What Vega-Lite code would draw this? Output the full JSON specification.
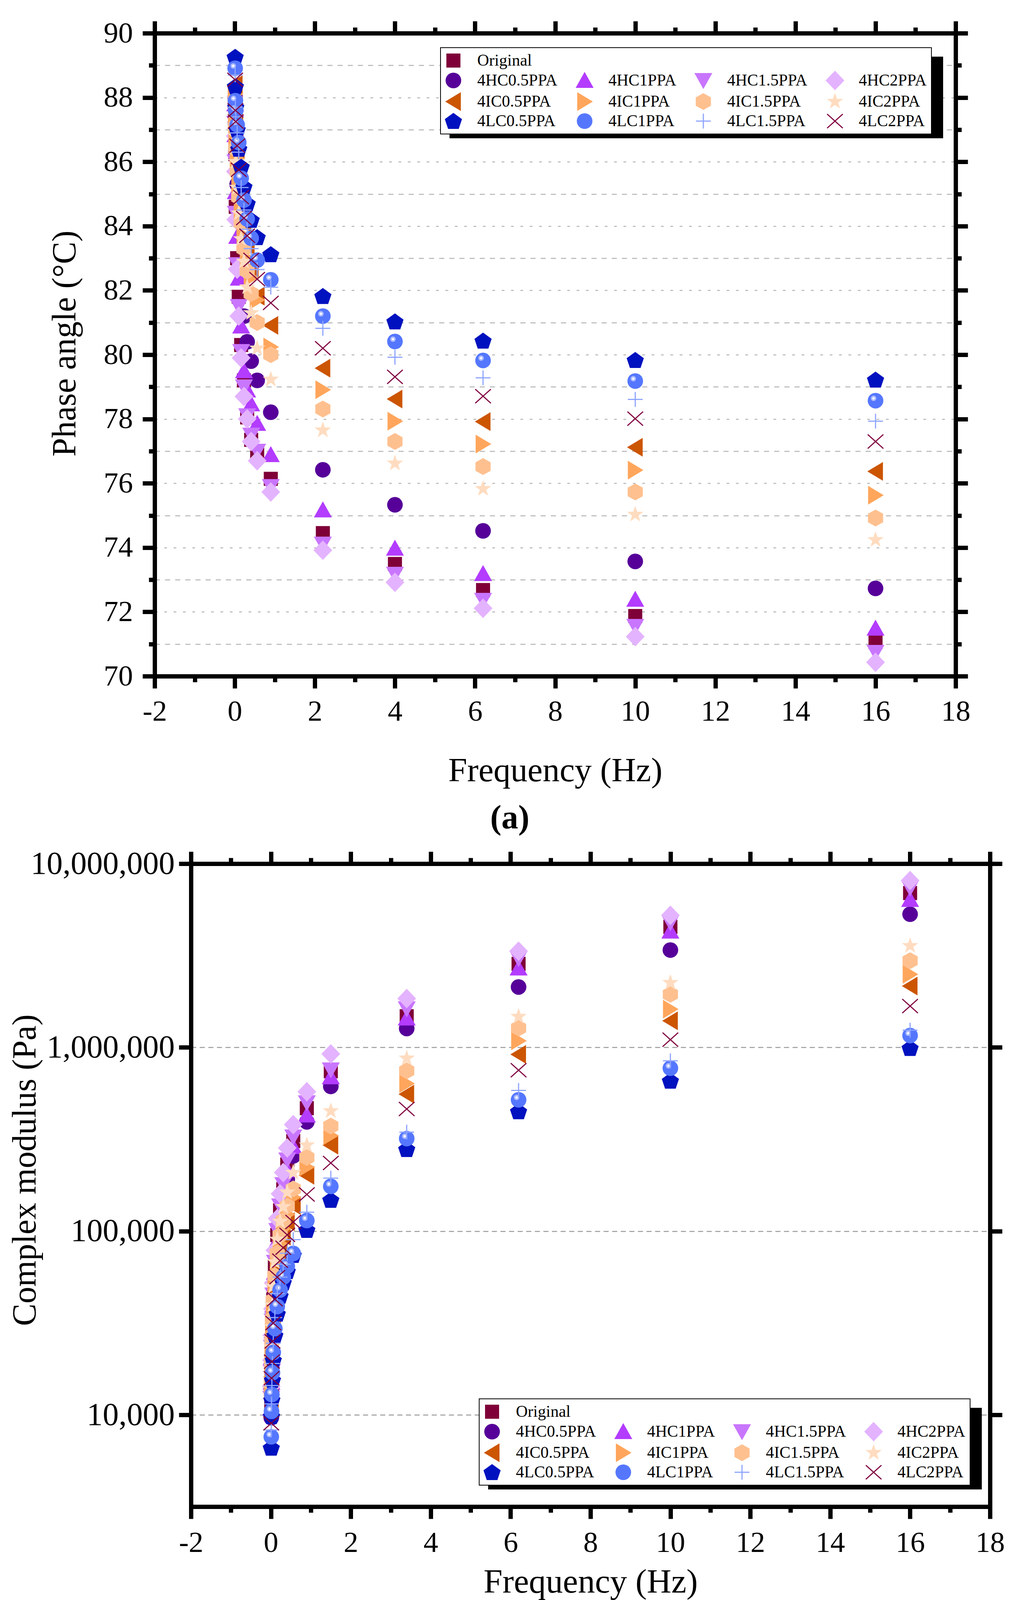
{
  "$schema": "https://vega.github.io/schema/vega-lite/v6.json",
  "background": "white",
  "autosize": {"type": "none"},
  "padding": {"left": 396, "top": 85, "right": 2244, "bottom": 4155},
  "config": {
    "font": "Liberation Serif",
    "view": {"stroke": null},
    "axis": {
      "domainColor": "black", "domainWidth": 11, "domainCap": "square",
      "tickColor": "black", "tickWidth": 11, "tickCap": "butt",
      "labelColor": "black", "titleColor": "black",
      "labelFont": "Liberation Serif", "titleFont": "Liberation Serif", "titleFontWeight": "normal",
      "labelFlush": false, "labelOverlap": false, "labelLimit": 600, "grid": false
    },
    "legend": {"strokeWidth": 2, "labelLimit": 600, "symbolStrokeWidth": 0, "direction": "horizontal", "columns": 4, "title": null, "symbolSize": 1600, "labelFont": "Liberation Serif", "labelFontSize": 42, "labelColor": "black", "labelOffset": 40, "columnPadding": 46, "rowPadding": 5, "padding": 12},
    "title": {"font": "Liberation Serif", "color": "black"}
  },
  "datasets": {
    "phase": [
      {"s":"Original","f":0.01,"v":87.6},{"s":"Original","f":0.016,"v":86.24},{"s":"Original","f":0.025,"v":84.6},{"s":"Original","f":0.06,"v":83.0},{"s":"Original","f":0.1,"v":81.8},{"s":"Original","f":0.16,"v":80.3},{"s":"Original","f":0.23,"v":79.2},{"s":"Original","f":0.31,"v":78.05},{"s":"Original","f":0.41,"v":77.35},{"s":"Original","f":0.56,"v":76.9},{"s":"Original","f":0.9,"v":76.14},{"s":"Original","f":2.2,"v":74.45},{"s":"Original","f":4,"v":73.49},{"s":"Original","f":6.2,"v":72.68},{"s":"Original","f":10,"v":71.87},{"s":"Original","f":16,"v":71.06},
      {"s":"4HC0.5PPA","f":0.01,"v":88.0},{"s":"4HC0.5PPA","f":0.016,"v":87.2},{"s":"4HC0.5PPA","f":0.025,"v":86.3},{"s":"4HC0.5PPA","f":0.06,"v":85.3},{"s":"4HC0.5PPA","f":0.1,"v":84.2},{"s":"4HC0.5PPA","f":0.16,"v":82.8},{"s":"4HC0.5PPA","f":0.23,"v":81.2},{"s":"4HC0.5PPA","f":0.31,"v":80.4},{"s":"4HC0.5PPA","f":0.41,"v":79.8},{"s":"4HC0.5PPA","f":0.56,"v":79.2},{"s":"4HC0.5PPA","f":0.9,"v":78.21},{"s":"4HC0.5PPA","f":2.2,"v":76.42},{"s":"4HC0.5PPA","f":4,"v":75.33},{"s":"4HC0.5PPA","f":6.2,"v":74.52},{"s":"4HC0.5PPA","f":10,"v":73.57},{"s":"4HC0.5PPA","f":16,"v":72.73},
      {"s":"4HC1PPA","f":0.01,"v":87.8},{"s":"4HC1PPA","f":0.016,"v":86.84},{"s":"4HC1PPA","f":0.025,"v":85.07},{"s":"4HC1PPA","f":0.06,"v":83.68},{"s":"4HC1PPA","f":0.1,"v":82.38},{"s":"4HC1PPA","f":0.16,"v":80.89},{"s":"4HC1PPA","f":0.23,"v":79.5},{"s":"4HC1PPA","f":0.31,"v":78.9},{"s":"4HC1PPA","f":0.41,"v":78.47},{"s":"4HC1PPA","f":0.56,"v":77.86},{"s":"4HC1PPA","f":0.9,"v":76.89},{"s":"4HC1PPA","f":2.2,"v":75.17},{"s":"4HC1PPA","f":4,"v":73.98},{"s":"4HC1PPA","f":6.2,"v":73.19},{"s":"4HC1PPA","f":10,"v":72.39},{"s":"4HC1PPA","f":16,"v":71.49},
      {"s":"4HC1.5PPA","f":0.01,"v":87.2},{"s":"4HC1.5PPA","f":0.016,"v":86.0},{"s":"4HC1.5PPA","f":0.025,"v":84.4},{"s":"4HC1.5PPA","f":0.06,"v":82.8},{"s":"4HC1.5PPA","f":0.1,"v":81.5},{"s":"4HC1.5PPA","f":0.16,"v":80.1},{"s":"4HC1.5PPA","f":0.23,"v":79.0},{"s":"4HC1.5PPA","f":0.31,"v":78.1},{"s":"4HC1.5PPA","f":0.41,"v":77.5},{"s":"4HC1.5PPA","f":0.56,"v":77.0},{"s":"4HC1.5PPA","f":0.9,"v":75.9},{"s":"4HC1.5PPA","f":2.2,"v":74.11},{"s":"4HC1.5PPA","f":4,"v":73.17},{"s":"4HC1.5PPA","f":6.2,"v":72.36},{"s":"4HC1.5PPA","f":10,"v":71.55},{"s":"4HC1.5PPA","f":16,"v":70.74},
      {"s":"4HC2PPA","f":0.01,"v":86.8},{"s":"4HC2PPA","f":0.016,"v":85.7},{"s":"4HC2PPA","f":0.025,"v":84.2},{"s":"4HC2PPA","f":0.06,"v":82.66},{"s":"4HC2PPA","f":0.1,"v":81.2},{"s":"4HC2PPA","f":0.16,"v":79.9},{"s":"4HC2PPA","f":0.23,"v":78.7},{"s":"4HC2PPA","f":0.31,"v":78.0},{"s":"4HC2PPA","f":0.41,"v":77.3},{"s":"4HC2PPA","f":0.56,"v":76.7},{"s":"4HC2PPA","f":0.9,"v":75.73},{"s":"4HC2PPA","f":2.2,"v":73.92},{"s":"4HC2PPA","f":4,"v":72.92},{"s":"4HC2PPA","f":6.2,"v":72.11},{"s":"4HC2PPA","f":10,"v":71.23},{"s":"4HC2PPA","f":16,"v":70.43},
      {"s":"4IC0.5PPA","f":0.01,"v":88.4},{"s":"4IC0.5PPA","f":0.016,"v":87.7},{"s":"4IC0.5PPA","f":0.025,"v":87.1},{"s":"4IC0.5PPA","f":0.06,"v":86.4},{"s":"4IC0.5PPA","f":0.1,"v":85.7},{"s":"4IC0.5PPA","f":0.16,"v":84.9},{"s":"4IC0.5PPA","f":0.23,"v":84.1},{"s":"4IC0.5PPA","f":0.31,"v":83.4},{"s":"4IC0.5PPA","f":0.41,"v":82.7},{"s":"4IC0.5PPA","f":0.56,"v":81.82},{"s":"4IC0.5PPA","f":0.9,"v":80.91},{"s":"4IC0.5PPA","f":2.2,"v":79.58},{"s":"4IC0.5PPA","f":4,"v":78.62},{"s":"4IC0.5PPA","f":6.2,"v":77.92},{"s":"4IC0.5PPA","f":10,"v":77.12},{"s":"4IC0.5PPA","f":16,"v":76.37},
      {"s":"4IC1PPA","f":0.01,"v":88.1},{"s":"4IC1PPA","f":0.016,"v":87.4},{"s":"4IC1PPA","f":0.025,"v":86.8},{"s":"4IC1PPA","f":0.06,"v":86.1},{"s":"4IC1PPA","f":0.1,"v":85.3},{"s":"4IC1PPA","f":0.16,"v":84.5},{"s":"4IC1PPA","f":0.23,"v":83.7},{"s":"4IC1PPA","f":0.31,"v":83.0},{"s":"4IC1PPA","f":0.41,"v":82.4},{"s":"4IC1PPA","f":0.56,"v":81.7},{"s":"4IC1PPA","f":0.9,"v":80.24},{"s":"4IC1PPA","f":2.2,"v":78.91},{"s":"4IC1PPA","f":4,"v":77.93},{"s":"4IC1PPA","f":6.2,"v":77.22},{"s":"4IC1PPA","f":10,"v":76.41},{"s":"4IC1PPA","f":16,"v":75.63},
      {"s":"4IC1.5PPA","f":0.01,"v":87.9},{"s":"4IC1.5PPA","f":0.016,"v":87.1},{"s":"4IC1.5PPA","f":0.025,"v":86.4},{"s":"4IC1.5PPA","f":0.06,"v":85.7},{"s":"4IC1.5PPA","f":0.1,"v":84.9},{"s":"4IC1.5PPA","f":0.16,"v":84.1},{"s":"4IC1.5PPA","f":0.23,"v":83.3},{"s":"4IC1.5PPA","f":0.31,"v":82.6},{"s":"4IC1.5PPA","f":0.41,"v":81.9},{"s":"4IC1.5PPA","f":0.56,"v":81.0},{"s":"4IC1.5PPA","f":0.9,"v":80.0},{"s":"4IC1.5PPA","f":2.2,"v":78.31},{"s":"4IC1.5PPA","f":4,"v":77.3},{"s":"4IC1.5PPA","f":6.2,"v":76.52},{"s":"4IC1.5PPA","f":10,"v":75.73},{"s":"4IC1.5PPA","f":16,"v":74.92},
      {"s":"4IC2PPA","f":0.01,"v":87.6},{"s":"4IC2PPA","f":0.016,"v":86.8},{"s":"4IC2PPA","f":0.025,"v":86.0},{"s":"4IC2PPA","f":0.06,"v":85.2},{"s":"4IC2PPA","f":0.1,"v":84.4},{"s":"4IC2PPA","f":0.16,"v":83.6},{"s":"4IC2PPA","f":0.23,"v":82.9},{"s":"4IC2PPA","f":0.31,"v":82.1},{"s":"4IC2PPA","f":0.41,"v":81.3},{"s":"4IC2PPA","f":0.56,"v":80.2},{"s":"4IC2PPA","f":0.9,"v":79.23},{"s":"4IC2PPA","f":2.2,"v":77.65},{"s":"4IC2PPA","f":4,"v":76.62},{"s":"4IC2PPA","f":6.2,"v":75.83},{"s":"4IC2PPA","f":10,"v":75.03},{"s":"4IC2PPA","f":16,"v":74.24},
      {"s":"4LC0.5PPA","f":0.01,"v":89.26},{"s":"4LC0.5PPA","f":0.016,"v":88.34},{"s":"4LC0.5PPA","f":0.025,"v":87.7},{"s":"4LC0.5PPA","f":0.06,"v":87.0},{"s":"4LC0.5PPA","f":0.1,"v":86.4},{"s":"4LC0.5PPA","f":0.16,"v":85.84},{"s":"4LC0.5PPA","f":0.23,"v":85.22},{"s":"4LC0.5PPA","f":0.31,"v":84.7},{"s":"4LC0.5PPA","f":0.41,"v":84.19},{"s":"4LC0.5PPA","f":0.56,"v":83.65},{"s":"4LC0.5PPA","f":0.9,"v":83.12},{"s":"4LC0.5PPA","f":2.2,"v":81.82},{"s":"4LC0.5PPA","f":4,"v":81.03},{"s":"4LC0.5PPA","f":6.2,"v":80.43},{"s":"4LC0.5PPA","f":10,"v":79.83},{"s":"4LC0.5PPA","f":16,"v":79.22},
      {"s":"4LC1PPA","f":0.01,"v":88.91},{"s":"4LC1PPA","f":0.016,"v":87.9},{"s":"4LC1PPA","f":0.025,"v":87.6},{"s":"4LC1PPA","f":0.06,"v":87.15},{"s":"4LC1PPA","f":0.1,"v":86.6},{"s":"4LC1PPA","f":0.16,"v":85.49},{"s":"4LC1PPA","f":0.23,"v":84.81},{"s":"4LC1PPA","f":0.31,"v":84.22},{"s":"4LC1PPA","f":0.41,"v":83.62},{"s":"4LC1PPA","f":0.56,"v":82.94},{"s":"4LC1PPA","f":0.9,"v":82.33},{"s":"4LC1PPA","f":2.2,"v":81.2},{"s":"4LC1PPA","f":4,"v":80.41},{"s":"4LC1PPA","f":6.2,"v":79.82},{"s":"4LC1PPA","f":10,"v":79.18},{"s":"4LC1PPA","f":16,"v":78.57},
      {"s":"4LC1.5PPA","f":0.01,"v":88.7},{"s":"4LC1.5PPA","f":0.016,"v":87.7},{"s":"4LC1.5PPA","f":0.025,"v":87.4},{"s":"4LC1.5PPA","f":0.06,"v":86.9},{"s":"4LC1.5PPA","f":0.1,"v":86.3},{"s":"4LC1.5PPA","f":0.16,"v":85.2},{"s":"4LC1.5PPA","f":0.23,"v":84.5},{"s":"4LC1.5PPA","f":0.31,"v":83.9},{"s":"4LC1.5PPA","f":0.41,"v":83.3},{"s":"4LC1.5PPA","f":0.56,"v":82.65},{"s":"4LC1.5PPA","f":0.9,"v":82.1},{"s":"4LC1.5PPA","f":2.2,"v":80.82},{"s":"4LC1.5PPA","f":4,"v":79.92},{"s":"4LC1.5PPA","f":6.2,"v":79.28},{"s":"4LC1.5PPA","f":10,"v":78.61},{"s":"4LC1.5PPA","f":16,"v":77.93},
      {"s":"4LC2PPA","f":0.01,"v":88.55},{"s":"4LC2PPA","f":0.016,"v":87.6},{"s":"4LC2PPA","f":0.025,"v":87.25},{"s":"4LC2PPA","f":0.06,"v":86.5},{"s":"4LC2PPA","f":0.1,"v":85.75},{"s":"4LC2PPA","f":0.16,"v":84.9},{"s":"4LC2PPA","f":0.23,"v":84.25},{"s":"4LC2PPA","f":0.31,"v":83.7},{"s":"4LC2PPA","f":0.41,"v":82.95},{"s":"4LC2PPA","f":0.56,"v":82.35},{"s":"4LC2PPA","f":0.9,"v":81.61},{"s":"4LC2PPA","f":2.2,"v":80.2},{"s":"4LC2PPA","f":4,"v":79.31},{"s":"4LC2PPA","f":6.2,"v":78.71},{"s":"4LC2PPA","f":10,"v":78.01},{"s":"4LC2PPA","f":16,"v":77.3}
    ],
    "modulus": [
      {"s":"Original","f":0.01,"v":11620},{"s":"Original","f":0.016,"v":16150},{"s":"Original","f":0.025,"v":22080},{"s":"Original","f":0.04,"v":30700},{"s":"Original","f":0.06,"v":42470},{"s":"Original","f":0.1,"v":63980},{"s":"Original","f":0.16,"v":95280},{"s":"Original","f":0.23,"v":129800},{"s":"Original","f":0.31,"v":169400},{"s":"Original","f":0.41,"v":230700},{"s":"Original","f":0.56,"v":309100},{"s":"Original","f":0.9,"v":466700},{"s":"Original","f":1.5,"v":741300},{"s":"Original","f":3.4,"v":1479000},{"s":"Original","f":6.2,"v":2851000},{"s":"Original","f":10,"v":4529000},{"s":"Original","f":16,"v":6918000},
      {"s":"4HC0.5PPA","f":0.01,"v":9660},{"s":"4HC0.5PPA","f":0.016,"v":13430},{"s":"4HC0.5PPA","f":0.025,"v":18360},{"s":"4HC0.5PPA","f":0.04,"v":25530},{"s":"4HC0.5PPA","f":0.06,"v":35310},{"s":"4HC0.5PPA","f":0.1,"v":53200},{"s":"4HC0.5PPA","f":0.16,"v":79230},{"s":"4HC0.5PPA","f":0.23,"v":107900},{"s":"4HC0.5PPA","f":0.31,"v":140900},{"s":"4HC0.5PPA","f":0.41,"v":191800},{"s":"4HC0.5PPA","f":0.56,"v":257000},{"s":"4HC0.5PPA","f":0.9,"v":393600},{"s":"4HC0.5PPA","f":1.5,"v":613800},{"s":"4HC0.5PPA","f":3.4,"v":1268000},{"s":"4HC0.5PPA","f":6.2,"v":2133000},{"s":"4HC0.5PPA","f":10,"v":3388000},{"s":"4HC0.5PPA","f":16,"v":5309000},
      {"s":"4HC1PPA","f":0.01,"v":10850},{"s":"4HC1PPA","f":0.016,"v":15070},{"s":"4HC1PPA","f":0.025,"v":20610},{"s":"4HC1PPA","f":0.04,"v":28660},{"s":"4HC1PPA","f":0.06,"v":39650},{"s":"4HC1PPA","f":0.1,"v":59730},{"s":"4HC1PPA","f":0.16,"v":88950},{"s":"4HC1PPA","f":0.23,"v":121100},{"s":"4HC1PPA","f":0.31,"v":158200},{"s":"4HC1PPA","f":0.41,"v":215400},{"s":"4HC1PPA","f":0.56,"v":288600},{"s":"4HC1PPA","f":0.9,"v":428500},{"s":"4HC1PPA","f":1.5,"v":691800},{"s":"4HC1PPA","f":3.4,"v":1445000},{"s":"4HC1PPA","f":6.2,"v":2704000},{"s":"4HC1PPA","f":10,"v":4295000},{"s":"4HC1PPA","f":16,"v":6383000},
      {"s":"4HC1.5PPA","f":0.01,"v":12300},{"s":"4HC1.5PPA","f":0.016,"v":17100},{"s":"4HC1.5PPA","f":0.025,"v":23380},{"s":"4HC1.5PPA","f":0.04,"v":32510},{"s":"4HC1.5PPA","f":0.06,"v":44980},{"s":"4HC1.5PPA","f":0.1,"v":67760},{"s":"4HC1.5PPA","f":0.16,"v":100900},{"s":"4HC1.5PPA","f":0.23,"v":137400},{"s":"4HC1.5PPA","f":0.31,"v":179400},{"s":"4HC1.5PPA","f":0.41,"v":244300},{"s":"4HC1.5PPA","f":0.56,"v":325800},{"s":"4HC1.5PPA","f":0.9,"v":500000},{"s":"4HC1.5PPA","f":1.5,"v":755100},{"s":"4HC1.5PPA","f":3.4,"v":1622000},{"s":"4HC1.5PPA","f":6.2,"v":3048000},{"s":"4HC1.5PPA","f":10,"v":4775000},{"s":"4HC1.5PPA","f":16,"v":7379000},
      {"s":"4HC2PPA","f":0.01,"v":14290},{"s":"4HC2PPA","f":0.016,"v":19860},{"s":"4HC2PPA","f":0.025,"v":27160},{"s":"4HC2PPA","f":0.04,"v":37760},{"s":"4HC2PPA","f":0.06,"v":52240},{"s":"4HC2PPA","f":0.1,"v":78700},{"s":"4HC2PPA","f":0.16,"v":117200},{"s":"4HC2PPA","f":0.23,"v":159600},{"s":"4HC2PPA","f":0.31,"v":208400},{"s":"4HC2PPA","f":0.41,"v":283800},{"s":"4HC2PPA","f":0.56,"v":380200},{"s":"4HC2PPA","f":0.9,"v":574100},{"s":"4HC2PPA","f":1.5,"v":922600},{"s":"4HC2PPA","f":3.4,"v":1845000},{"s":"4HC2PPA","f":6.2,"v":3342000},{"s":"4HC2PPA","f":10,"v":5236000},{"s":"4HC2PPA","f":16,"v":8091000},
      {"s":"4IC0.5PPA","f":0.01,"v":12270},{"s":"4IC0.5PPA","f":0.016,"v":16110},{"s":"4IC0.5PPA","f":0.025,"v":20890},{"s":"4IC0.5PPA","f":0.04,"v":27420},{"s":"4IC0.5PPA","f":0.06,"v":34670},{"s":"4IC0.5PPA","f":0.1,"v":47100},{"s":"4IC0.5PPA","f":0.16,"v":62370},{"s":"4IC0.5PPA","f":0.23,"v":78160},{"s":"4IC0.5PPA","f":0.31,"v":93970},{"s":"4IC0.5PPA","f":0.41,"v":112700},{"s":"4IC0.5PPA","f":0.56,"v":138000},{"s":"4IC0.5PPA","f":0.9,"v":201400},{"s":"4IC0.5PPA","f":1.5,"v":293800},{"s":"4IC0.5PPA","f":3.4,"v":557200},{"s":"4IC0.5PPA","f":6.2,"v":916200},{"s":"4IC0.5PPA","f":10,"v":1396000},{"s":"4IC0.5PPA","f":16,"v":2158000},
      {"s":"4IC1PPA","f":0.01,"v":13450},{"s":"4IC1PPA","f":0.016,"v":17660},{"s":"4IC1PPA","f":0.025,"v":22900},{"s":"4IC1PPA","f":0.04,"v":30050},{"s":"4IC1PPA","f":0.06,"v":38000},{"s":"4IC1PPA","f":0.1,"v":51620},{"s":"4IC1PPA","f":0.16,"v":68360},{"s":"4IC1PPA","f":0.23,"v":85660},{"s":"4IC1PPA","f":0.31,"v":103000},{"s":"4IC1PPA","f":0.41,"v":123500},{"s":"4IC1PPA","f":0.56,"v":153100},{"s":"4IC1PPA","f":0.9,"v":223400},{"s":"4IC1PPA","f":1.5,"v":331100},{"s":"4IC1PPA","f":3.4,"v":635300},{"s":"4IC1PPA","f":6.2,"v":1086000},{"s":"4IC1PPA","f":10,"v":1614000},{"s":"4IC1PPA","f":16,"v":2500000},
      {"s":"4IC1.5PPA","f":0.01,"v":14920},{"s":"4IC1.5PPA","f":0.016,"v":19590},{"s":"4IC1.5PPA","f":0.025,"v":25400},{"s":"4IC1.5PPA","f":0.04,"v":33340},{"s":"4IC1.5PPA","f":0.06,"v":42160},{"s":"4IC1.5PPA","f":0.1,"v":57270},{"s":"4IC1.5PPA","f":0.16,"v":75840},{"s":"4IC1.5PPA","f":0.23,"v":95040},{"s":"4IC1.5PPA","f":0.31,"v":114300},{"s":"4IC1.5PPA","f":0.41,"v":137000},{"s":"4IC1.5PPA","f":0.56,"v":169800},{"s":"4IC1.5PPA","f":0.9,"v":251800},{"s":"4IC1.5PPA","f":1.5,"v":373300},{"s":"4IC1.5PPA","f":3.4,"v":746400},{"s":"4IC1.5PPA","f":6.2,"v":1274000},{"s":"4IC1.5PPA","f":10,"v":1945000},{"s":"4IC1.5PPA","f":16,"v":2965000},
      {"s":"4IC2PPA","f":0.01,"v":17730},{"s":"4IC2PPA","f":0.016,"v":23280},{"s":"4IC2PPA","f":0.025,"v":30190},{"s":"4IC2PPA","f":0.04,"v":39620},{"s":"4IC2PPA","f":0.06,"v":50100},{"s":"4IC2PPA","f":0.1,"v":68060},{"s":"4IC2PPA","f":0.16,"v":90120},{"s":"4IC2PPA","f":0.23,"v":112900},{"s":"4IC2PPA","f":0.31,"v":135800},{"s":"4IC2PPA","f":0.41,"v":162900},{"s":"4IC2PPA","f":0.56,"v":208400},{"s":"4IC2PPA","f":0.9,"v":293800},{"s":"4IC2PPA","f":1.5,"v":450800},{"s":"4IC2PPA","f":3.4,"v":873000},{"s":"4IC2PPA","f":6.2,"v":1472000},{"s":"4IC2PPA","f":10,"v":2249000},{"s":"4IC2PPA","f":16,"v":3573000},
      {"s":"4LC0.5PPA","f":0.01,"v":6622},{"s":"4LC0.5PPA","f":0.016,"v":9840},{"s":"4LC0.5PPA","f":0.025,"v":12080},{"s":"4LC0.5PPA","f":0.04,"v":15490},{"s":"4LC0.5PPA","f":0.06,"v":19860},{"s":"4LC0.5PPA","f":0.1,"v":27040},{"s":"4LC0.5PPA","f":0.16,"v":35480},{"s":"4LC0.5PPA","f":0.23,"v":44460},{"s":"4LC0.5PPA","f":0.31,"v":52480},{"s":"4LC0.5PPA","f":0.41,"v":60530},{"s":"4LC0.5PPA","f":0.56,"v":74130},{"s":"4LC0.5PPA","f":0.9,"v":101400},{"s":"4LC0.5PPA","f":1.5,"v":147900},{"s":"4LC0.5PPA","f":3.4,"v":279300},{"s":"4LC0.5PPA","f":6.2,"v":448700},{"s":"4LC0.5PPA","f":10,"v":657700},{"s":"4LC0.5PPA","f":16,"v":990800},
      {"s":"4LC1PPA","f":0.01,"v":7603},{"s":"4LC1PPA","f":0.016,"v":10470},{"s":"4LC1PPA","f":0.025,"v":12910},{"s":"4LC1PPA","f":0.04,"v":16980},{"s":"4LC1PPA","f":0.06,"v":21880},{"s":"4LC1PPA","f":0.1,"v":29510},{"s":"4LC1PPA","f":0.16,"v":38900},{"s":"4LC1PPA","f":0.23,"v":47860},{"s":"4LC1PPA","f":0.31,"v":56230},{"s":"4LC1PPA","f":0.41,"v":64570},{"s":"4LC1PPA","f":0.56,"v":75680},{"s":"4LC1PPA","f":0.9,"v":114300},{"s":"4LC1PPA","f":1.5,"v":175400},{"s":"4LC1PPA","f":3.4,"v":319200},{"s":"4LC1PPA","f":6.2,"v":518800},{"s":"4LC1PPA","f":10,"v":770900},{"s":"4LC1PPA","f":16,"v":1161000},
      {"s":"4LC1.5PPA","f":0.01,"v":8279},{"s":"4LC1.5PPA","f":0.016,"v":11480},{"s":"4LC1.5PPA","f":0.025,"v":14450},{"s":"4LC1.5PPA","f":0.04,"v":19050},{"s":"4LC1.5PPA","f":0.06,"v":24550},{"s":"4LC1.5PPA","f":0.1,"v":33880},{"s":"4LC1.5PPA","f":0.16,"v":45710},{"s":"4LC1.5PPA","f":0.23,"v":56230},{"s":"4LC1.5PPA","f":0.31,"v":66070},{"s":"4LC1.5PPA","f":0.41,"v":75860},{"s":"4LC1.5PPA","f":0.56,"v":89950},{"s":"4LC1.5PPA","f":0.9,"v":126800},{"s":"4LC1.5PPA","f":1.5,"v":194500},{"s":"4LC1.5PPA","f":3.4,"v":345900},{"s":"4LC1.5PPA","f":6.2,"v":583400},{"s":"4LC1.5PPA","f":10,"v":845300},{"s":"4LC1.5PPA","f":16,"v":1242000},
      {"s":"4LC2PPA","f":0.01,"v":9016},{"s":"4LC2PPA","f":0.016,"v":15850},{"s":"4LC2PPA","f":0.025,"v":19500},{"s":"4LC2PPA","f":0.04,"v":25120},{"s":"4LC2PPA","f":0.06,"v":31620},{"s":"4LC2PPA","f":0.1,"v":42660},{"s":"4LC2PPA","f":0.16,"v":56230},{"s":"4LC2PPA","f":0.23,"v":69180},{"s":"4LC2PPA","f":0.31,"v":81280},{"s":"4LC2PPA","f":0.41,"v":95500},{"s":"4LC2PPA","f":0.56,"v":112200},{"s":"4LC2PPA","f":0.9,"v":158500},{"s":"4LC2PPA","f":1.5,"v":235000},{"s":"4LC2PPA","f":3.4,"v":462400},{"s":"4LC2PPA","f":6.2,"v":751600},{"s":"4LC2PPA","f":10,"v":1102000},{"s":"4LC2PPA","f":16,"v":1679000}
    ]
  },
  "bounds": "flush",
  "spacing": 480,
  "resolve": {"scale": {"x": "independent", "y": "independent", "color": "independent", "shape": "independent", "opacity": "independent"}},
  "vconcat": [
    {
      "width": 2051,
      "height": 1646,
      "data": {"name": "phase"},
      "title": {"text": "(a)", "orient": "bottom", "frame": "group", "anchor": "middle", "dx": -116, "offset": 79, "baseline": "middle", "fontSize": 86, "fontWeight": "bold"},
      "resolve": {"axis": {"x": "independent", "y": "independent"}},
      "layer": [
        {
          "transform": [{"filter": {"not": {"field": "s", "oneOf": ["4LC1.5PPA", "4LC2PPA"]}}}],
          "mark": {"type": "point", "filled": true, "size": 1600, "opacity": 1, "strokeWidth": 0, "color": "black"},
          "encoding": {
            "x": {"field": "f", "type": "quantitative", "scale": {"domain": [-2, 18], "nice": false, "zero": false},
              "axis": {"orient": "bottom", "values": [-2, 0, 2, 4, 6, 8, 10, 12, 14, 16, 18], "tickSize": 31, "labelFontSize": 75, "labelPadding": 82, "labelBaseline": "alphabetic", "labelExpr": "'' + datum.value", "title": "Frequency (Hz)", "titleFontSize": 87, "titleBaseline": "alphabetic", "titleY": 268, "grid": false}},
            "y": {"field": "v", "type": "quantitative", "scale": {"domain": [70, 90], "nice": false, "zero": false},
              "axis": {"orient": "left", "values": [70, 72, 74, 76, 78, 80, 82, 84, 86, 88, 90], "tickSize": 31, "labelFontSize": 75, "labelPadding": 25, "title": "Phase angle (°C)", "titleFontSize": 86, "titleBaseline": "alphabetic", "titleAngle": -90, "titleAlign": "center", "titleX": -204, "titleY": 794, "grid": true, "gridDash": [7, 17], "gridColor": "#c0c0c0", "gridWidth": 3}},
            "color": {"field": "s", "type": "nominal",
              "scale": {"domain": ["Original", " ", "  ", "   ", "4HC0.5PPA", "4HC1PPA", "4HC1.5PPA", "4HC2PPA", "4IC0.5PPA", "4IC1PPA", "4IC1.5PPA", "4IC2PPA", "4LC0.5PPA", "4LC1PPA", "4LC1.5PPA", "4LC2PPA"],
                "range": ["#7f0038", "transparent", "transparent", "transparent", "#560099", "#b33cff", "#c976ff", "#e4b3ff", "#cc5500", "#ffa65c", "#ffc08f", "#ffdcc0", "#0012bf", "#5577ff", "#8fa5ff", "#800040"]},
              "legend": {"orient": "none", "legendX": 732, "legendY": 37, "fillColor": "white", "strokeColor": "black", "zindex": 3}},
            "shape": {"field": "s", "type": "nominal",
              "scale": {"domain": ["Original", " ", "  ", "   ", "4HC0.5PPA", "4HC1PPA", "4HC1.5PPA", "4HC2PPA", "4IC0.5PPA", "4IC1PPA", "4IC1.5PPA", "4IC2PPA", "4LC0.5PPA", "4LC1PPA", "4LC1.5PPA", "4LC2PPA"],
                "range": ["M-0.9,-0.9H0.9V0.9H-0.9Z", "circle", "circle", "circle", "circle", "M0,-1.1L1.15,0.95L-1.15,0.95Z", "M0,1.1L1.15,-0.95L-1.15,-0.95Z", "M0,-1.25L1.2,0L0,1.25L-1.2,0Z", "M-1.05,0L0.95,-1.2L0.95,1.2Z", "M1.05,0L-0.95,-1.2L-0.95,1.2Z", "M0,-1.08L0.97,-0.54L0.97,0.54L0,1.08L-0.97,0.54L-0.97,-0.54Z", "M0,-1.1L0.259,-0.356L1.046,-0.34L0.419,0.136L0.647,0.89L0,0.44L-0.647,0.89L-0.419,0.136L-1.046,-0.34L-0.259,-0.356Z", "M0,-1.05L1.1,-0.25L0.68,1.0L-0.68,1.0L-1.1,-0.25Z", "circle", "M-0.075,-0.95H0.075V-0.075H0.95V0.075H0.075V0.95H-0.075V0.075H-0.95V-0.075H-0.075Z", "M-1.05,-0.85L-0.95,-0.95L1.05,0.85L0.95,0.95Z M1.05,-0.85L-0.95,0.95L-1.05,0.85L0.95,-0.95Z"]},
              "legend": {"orient": "none", "legendX": 732, "legendY": 37, "fillColor": "white", "strokeColor": "black", "zindex": 3}},
            "opacity": {"field": "s", "type": "ordinal",
              "scale": {"domain": ["Original", "\u2002", "\u2002\u2002", "\u2002\u2002\u2002", "4HC0.5PPA", "4HC1PPA", "4HC1.5PPA", "4HC2PPA", "4IC0.5PPA", "4IC1PPA", "4IC1.5PPA", "4IC2PPA", "4LC0.5PPA", "4LC1PPA", "4LC1.5PPA", "4LC2PPA"], "range": [1, 1]},
              "legend": {"orient": "none", "legendX": 756, "legendY": 61, "symbolFillColor": "black", "labelExpr": "''", "labelOffset": 233, "fillColor": "black", "strokeColor": "black", "zindex": 2}}
          }
        },
        {
          "transform": [{"filter": {"field": "s", "equal": "4LC1PPA"}}],
          "mark": {"type": "point", "filled": true, "shape": "circle", "size": 196, "color": "#aebcff", "opacity": 1, "strokeWidth": 0, "xOffset": -5, "yOffset": -6},
          "encoding": {
            "x": {"field": "f", "type": "quantitative", "axis": {"orient": "bottom", "values": [-1, 1, 3, 5, 7, 9, 11, 13, 15, 17], "tickSize": 15, "labels": false, "domain": false, "title": null, "grid": false}},
            "y": {"field": "v", "type": "quantitative", "axis": {"orient": "left", "values": [71, 73, 75, 77, 79, 81, 83, 85, 87, 89], "tickSize": 15, "labels": false, "domain": false, "title": null, "grid": true, "gridDash": [13, 13], "gridColor": "#c0c0c0", "gridWidth": 3}}
          }
        },
        {
          "transform": [{"filter": {"field": "s", "equal": "4LC1PPA"}}],
          "mark": {"type": "point", "filled": true, "shape": "circle", "size": 36, "color": "white", "opacity": 1, "strokeWidth": 0, "xOffset": -5, "yOffset": -6},
          "encoding": {
            "x": {"field": "f", "type": "quantitative", "axis": {"orient": "top", "values": [-2, 0, 2, 4, 6, 8, 10, 12, 14, 16, 18], "tickSize": 31, "labels": false, "title": null, "grid": false}},
            "y": {"field": "v", "type": "quantitative", "axis": {"orient": "right", "values": [70, 72, 74, 76, 78, 80, 82, 84, 86, 88, 90], "tickSize": 31, "labels": false, "title": null, "grid": false}}
          }
        },
        {
          "transform": [{"filter": {"field": "s", "oneOf": ["4LC1.5PPA", "4LC2PPA"]}}],
          "mark": {"type": "point", "filled": true, "size": 1600, "opacity": 1, "strokeWidth": 0, "color": "black"},
          "encoding": {
            "x": {"field": "f", "type": "quantitative", "axis": {"orient": "top", "values": [-1, 1, 3, 5, 7, 9, 11, 13, 15, 17], "tickSize": 15, "labels": false, "domain": false, "title": null, "grid": false}},
            "y": {"field": "v", "type": "quantitative", "axis": {"orient": "right", "values": [71, 73, 75, 77, 79, 81, 83, 85, 87, 89], "tickSize": 15, "labels": false, "domain": false, "title": null, "grid": false}},
            "color": {"field": "s", "type": "nominal"},
            "shape": {"field": "s", "type": "nominal"},
            "opacity": {"field": "s", "type": "ordinal"}
          }
        }
      ]
    },
    {
      "bounds": "flush",
      "spacing": 0,
      "resolve": {"scale": {"x": "independent", "y": "independent", "color": "independent", "shape": "independent", "opacity": "independent"}},
      "hconcat": [
        {"width": 93, "height": 1646, "data": {"values": []}, "mark": {"type": "point"}, "encoding": {}},
        {
          "width": 2046,
          "height": 1646,
          "data": {"name": "modulus"},
          "title": {"text": "(b)", "orient": "bottom", "frame": "group", "anchor": "middle", "dx": -207, "offset": 60, "baseline": "middle", "fontSize": 86, "fontWeight": "bold"},
          "resolve": {"axis": {"x": "independent", "y": "independent"}},
          "layer": [
            {
              "transform": [{"filter": {"not": {"field": "s", "oneOf": ["4LC1.5PPA", "4LC2PPA"]}}}],
              "mark": {"type": "point", "filled": true, "size": 1600, "opacity": 1, "strokeWidth": 0, "color": "black"},
              "encoding": {
                "x": {"field": "f", "type": "quantitative", "scale": {"domain": [-2, 18], "nice": false, "zero": false},
                  "axis": {"orient": "bottom", "values": [-2, 0, 2, 4, 6, 8, 10, 12, 14, 16, 18], "tickSize": 31, "labelFontSize": 75, "labelPadding": 84, "labelBaseline": "alphabetic", "labelExpr": "'' + datum.value", "title": "Frequency (Hz)", "titleFontSize": 87, "titleBaseline": "alphabetic", "titleY": 219, "grid": false}},
                "y": {"field": "v", "type": "quantitative", "scale": {"type": "log", "domain": [3170, 10000000], "nice": false, "zero": false},
                  "axis": {"orient": "left", "values": [10000, 100000, 1000000, 10000000], "format": ",", "tickSize": 31, "labelFontSize": 82, "labelPadding": 11, "title": "Complex modulus (Pa)", "titleFontSize": 86, "titleBaseline": "alphabetic", "titleAngle": -90, "titleAlign": "center", "titleX": -399, "titleY": 784, "grid": true, "gridDash": [13, 9], "gridColor": "#9a9a9a", "gridWidth": 2.5}},
                "color": {"field": "s", "type": "nominal",
                  "scale": {"domain": ["Original", " ", "  ", "   ", "4HC0.5PPA", "4HC1PPA", "4HC1.5PPA", "4HC2PPA", "4IC0.5PPA", "4IC1PPA", "4IC1.5PPA", "4IC2PPA", "4LC0.5PPA", "4LC1PPA", "4LC1.5PPA", "4LC2PPA"],
                    "range": ["#7f0038", "transparent", "transparent", "transparent", "#560099", "#b33cff", "#c976ff", "#e4b3ff", "#cc5500", "#ffa65c", "#ffc08f", "#ffdcc0", "#0012bf", "#5577ff", "#8fa5ff", "#800040"]},
                  "legend": {"orient": "none", "legendX": 738, "legendY": 1370, "fillColor": "white", "strokeColor": "black", "zindex": 3}},
                "shape": {"field": "s", "type": "nominal",
                  "scale": {"domain": ["Original", " ", "  ", "   ", "4HC0.5PPA", "4HC1PPA", "4HC1.5PPA", "4HC2PPA", "4IC0.5PPA", "4IC1PPA", "4IC1.5PPA", "4IC2PPA", "4LC0.5PPA", "4LC1PPA", "4LC1.5PPA", "4LC2PPA"],
                    "range": ["M-0.9,-0.9H0.9V0.9H-0.9Z", "circle", "circle", "circle", "circle", "M0,-1.1L1.15,0.95L-1.15,0.95Z", "M0,1.1L1.15,-0.95L-1.15,-0.95Z", "M0,-1.25L1.2,0L0,1.25L-1.2,0Z", "M-1.05,0L0.95,-1.2L0.95,1.2Z", "M1.05,0L-0.95,-1.2L-0.95,1.2Z", "M0,-1.08L0.97,-0.54L0.97,0.54L0,1.08L-0.97,0.54L-0.97,-0.54Z", "M0,-1.1L0.259,-0.356L1.046,-0.34L0.419,0.136L0.647,0.89L0,0.44L-0.647,0.89L-0.419,0.136L-1.046,-0.34L-0.259,-0.356Z", "M0,-1.05L1.1,-0.25L0.68,1.0L-0.68,1.0L-1.1,-0.25Z", "circle", "M-0.075,-0.95H0.075V-0.075H0.95V0.075H0.075V0.95H-0.075V0.075H-0.95V-0.075H-0.075Z", "M-1.05,-0.85L-0.95,-0.95L1.05,0.85L0.95,0.95Z M1.05,-0.85L-0.95,0.95L-1.05,0.85L0.95,-0.95Z"]},
                  "legend": {"orient": "none", "legendX": 738, "legendY": 1370, "fillColor": "white", "strokeColor": "black", "zindex": 3}},
                "opacity": {"field": "s", "type": "ordinal",
                  "scale": {"domain": ["Original", "\u2002", "\u2002\u2002", "\u2002\u2002\u2002", "4HC0.5PPA", "4HC1PPA", "4HC1.5PPA", "4HC2PPA", "4IC0.5PPA", "4IC1PPA", "4IC1.5PPA", "4IC2PPA", "4LC0.5PPA", "4LC1PPA", "4LC1.5PPA", "4LC2PPA"], "range": [1, 1]},
                  "legend": {"orient": "none", "legendX": 762, "legendY": 1394, "symbolFillColor": "black", "labelExpr": "''", "labelOffset": 233, "fillColor": "black", "strokeColor": "black", "zindex": 2}}
              }
            },
            {
              "transform": [{"filter": {"field": "s", "equal": "4LC1PPA"}}],
              "mark": {"type": "point", "filled": true, "shape": "circle", "size": 196, "color": "#aebcff", "opacity": 1, "strokeWidth": 0, "xOffset": -5, "yOffset": -6},
              "encoding": {
                "x": {"field": "f", "type": "quantitative", "axis": {"orient": "bottom", "values": [-1, 1, 3, 5, 7, 9, 11, 13, 15, 17], "tickSize": 15, "labels": false, "domain": false, "title": null, "grid": false}},
                "y": {"field": "v", "type": "quantitative", "axis": null}
              }
            },
            {
              "transform": [{"filter": {"field": "s", "equal": "4LC1PPA"}}],
              "mark": {"type": "point", "filled": true, "shape": "circle", "size": 36, "color": "white", "opacity": 1, "strokeWidth": 0, "xOffset": -5, "yOffset": -6},
              "encoding": {
                "x": {"field": "f", "type": "quantitative", "axis": {"orient": "top", "values": [-2, 0, 2, 4, 6, 8, 10, 12, 14, 16, 18], "tickSize": 31, "labels": false, "title": null, "grid": false}},
                "y": {"field": "v", "type": "quantitative", "axis": {"orient": "right", "values": [10000, 100000, 1000000, 10000000], "tickSize": 31, "labels": false, "title": null, "grid": false}}
              }
            },
            {
              "transform": [{"filter": {"field": "s", "oneOf": ["4LC1.5PPA", "4LC2PPA"]}}],
              "mark": {"type": "point", "filled": true, "size": 1600, "opacity": 1, "strokeWidth": 0, "color": "black"},
              "encoding": {
                "x": {"field": "f", "type": "quantitative", "axis": {"orient": "top", "values": [-1, 1, 3, 5, 7, 9, 11, 13, 15, 17], "tickSize": 15, "labels": false, "domain": false, "title": null, "grid": false}},
                "y": {"field": "v", "type": "quantitative", "axis": null},
                "color": {"field": "s", "type": "nominal"},
                "shape": {"field": "s", "type": "nominal"},
                "opacity": {"field": "s", "type": "ordinal"}
              }
            }
          ]
        }
      ]
    }
  ]
}
